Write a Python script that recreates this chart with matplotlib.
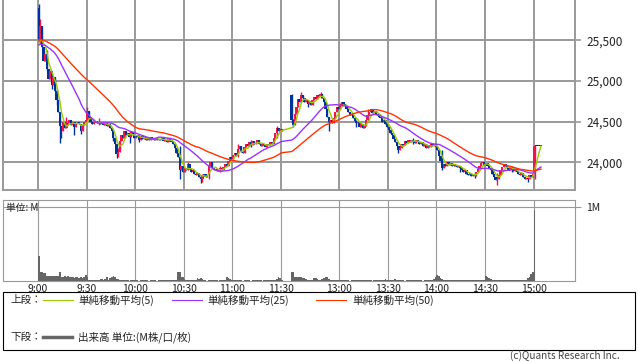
import numpy as np
import pandas as pd
import matplotlib.pyplot as plt
from matplotlib.lines import Line2D
from matplotlib.patches import Rectangle

plt.rcParams['font.family'] = ['Noto Sans CJK JP', 'DejaVu Sans']

# 前日引け前の1分足終値 (移動平均の計算用、描画しない)
close_prev = [
    25590, 25600, 25580, 25570, 25590, 25610, 25600, 25580, 25560, 25570,
    25590, 25580, 25570, 25600, 25590, 25570, 25560, 25580, 25570, 25550,
    25540, 25530, 25520, 25500, 25490,
    25470, 25450, 25440, 25460, 25450, 25430, 25440, 25420, 25430, 25450,
    25440, 25430, 25420, 25440, 25450, 25430, 25420, 25440, 25430, 25450,
    25440, 25430, 25450, 25440,
]

# 1分足の終値 前場 9:00〜11:30
close_am = [
    25500, 25680, 25420, 25250, 25330, 25150, 25020, 25120, 24950, 25050,  # 9:00
    24880, 24760, 24620, 24450, 24380, 24500, 24420, 24480, 24470, 24520,  # 9:10
    24460, 24490, 24440, 24480, 24500, 24470, 24380, 24460, 24490, 24520,  # 9:20
    24630, 24560, 24500, 24470, 24490, 24510, 24480, 24500, 24470, 24490,  # 9:30
    24460, 24480, 24450, 24470, 24420, 24380, 24300, 24220, 24100, 24130,  # 9:40
    24260, 24340, 24300, 24380, 24330, 24360, 24310, 24370, 24330, 24300,  # 9:50
    24340, 24310, 24280, 24320, 24290, 24310, 24270, 24300, 24280, 24310,  # 10:00
    24290, 24270, 24300, 24280, 24290, 24270, 24300, 24260, 24280, 24250,  # 10:10
    24300, 24270, 24250, 24220, 24180, 24120, 24060, 23900, 23950, 23880,  # 10:20
    23930, 23900, 23980, 23920, 23880, 23900, 23860, 23840, 23870, 23820,  # 10:30
    23800, 23830, 23860, 23820, 23850, 23960, 24000, 23930, 23900, 23920,  # 10:40
    23890, 23910, 23930, 23900, 23940, 23980, 23960, 24020, 24070, 24040,  # 10:50
    24090, 24120, 24080, 24160, 24200, 24130, 24110, 24190, 24230, 24200,  # 11:00
    24250, 24210, 24260, 24220, 24240, 24270, 24230, 24200, 24230, 24210,  # 11:10
    24190, 24230, 24210, 24250, 24230, 24300, 24360, 24420, 24380, 24410,  # 11:20
    24390,                                                                 # 11:30
]

# 後場 12:30〜15:00
close_pm = [
    24520, 24460, 24600, 24680, 24780, 24740, 24830, 24790, 24740, 24760,  # 12:30
    24720, 24750, 24700, 24760, 24800, 24780, 24830, 24810, 24840, 24790,  # 12:40
    24740, 24660, 24560, 24490, 24520, 24480, 24540, 24620, 24680, 24660,  # 12:50
    24700, 24740, 24720, 24690, 24650, 24620, 24580, 24600, 24540, 24510,  # 13:00
    24480, 24500, 24440, 24470, 24420, 24450, 24520, 24580, 24620, 24650,  # 13:10
    24610, 24630, 24600, 24580, 24560, 24540, 24500, 24520, 24470, 24440,  # 13:20
    24400, 24360, 24330, 24290, 24250, 24200, 24150, 24180, 24230, 24210,  # 13:30
    24260, 24240, 24270, 24250, 24280, 24260, 24240, 24270, 24250, 24230,  # 13:40
    24250, 24200, 24220, 24180, 24210, 24190, 24220, 24200, 24230, 24190,  # 13:50
    24150, 24080, 24020, 23930, 23980, 23960, 24000, 23970, 23990, 23950,  # 14:00
    23980, 23960, 23940, 23960, 23930, 23910, 23880, 23900, 23860, 23840,  # 14:10
    23870, 23830, 23850, 23830, 23880, 23920, 23960, 23990, 24000, 23970,  # 14:20
    23990, 23950, 23930, 23900, 23860, 23820, 23780, 23800, 23850, 23900,  # 14:30
    23940, 23980, 23950, 23930, 23910, 23940, 23920, 23890, 23910, 23880,  # 14:40
    23860, 23840, 23870, 23820, 23800, 23810, 23790, 23840, 23820, 23860,  # 14:50
    24200,                                                                 # 15:00
]

# 引け後(15:01〜15:04)
close_after = [24200, 24200, 24200, 24200]

open_am_first = 25900
open_pm_first = 24830

# ひげ (分: 高値, 安値)
wick_am = {0: (25950, 25480), 1: (25760, 25460), 5: (25380, 25120), 8: (25100, 24900),
           11: (24900, 24700), 13: (24600, 24240), 14: (24450, 24300), 17: (24560, 24420),
           22: (24500, 24330), 26: (24470, 24350), 30: (24680, 24520), 37: (24540, 24460),
           46: (24360, 24260), 48: (24220, 24050), 49: (24180, 24070), 56: (24380, 24240),
           62: (24330, 24250), 87: (24200, 23790), 92: (24000, 23900), 100: (23850, 23740),
           101: (23860, 23760), 105: (23980, 23800), 112: (23950, 23880), 123: (24220, 24060),
           131: (24270, 24190), 147: (24450, 24300)}
wick_pm = {0: (24840, 24500), 1: (24530, 24440), 6: (24870, 24760), 10: (24760, 24680),
           18: (24870, 24790), 23: (24560, 24380), 30: (24730, 24660), 40: (24520, 24440),
           47: (24660, 24500), 66: (24200, 24110), 75: (24300, 24230), 93: (24150, 23900),
           104: (23960, 23880), 113: (23880, 23810), 127: (23870, 23720), 136: (23960, 23880),
           146: (23830, 23760), 150: (24210, 23800)}

# 出来高 (M)
vol_am = [
    0.34, 0.12, 0.12, 0.11, 0.11, 0.07, 0.07, 0.07, 0.07, 0.07,
    0.07, 0.07, 0.07, 0.12, 0.05, 0.06, 0.07, 0.06, 0.07, 0.06,
    0.05, 0.05, 0.04, 0.05, 0.05, 0.04, 0.05, 0.04, 0.05, 0.08,
    0.06, 0.02, 0.02, 0.02, 0.02, 0.01, 0.02, 0.02, 0.03, 0.03,
    0.02, 0.03, 0.05, 0.02, 0.04, 0.06, 0.07, 0.05, 0.03, 0.03,
    0.02, 0.02, 0.01, 0.01, 0.02, 0.01, 0.00, 0.01, 0.01, 0.02,
    0.01, 0.01, 0.00, 0.01, 0.01, 0.01, 0.02, 0.01, 0.00, 0.01,
    0.01, 0.01, 0.01, 0.00, 0.01, 0.01, 0.01, 0.01, 0.02, 0.01,
    0.01, 0.01, 0.02, 0.01, 0.02, 0.02, 0.12, 0.12, 0.06, 0.05,
    0.03, 0.02, 0.02, 0.02, 0.02, 0.01, 0.02, 0.02, 0.04, 0.03,
    0.04, 0.03, 0.01, 0.01, 0.00, 0.01, 0.01, 0.01, 0.01, 0.01,
    0.01, 0.00, 0.01, 0.01, 0.01, 0.02, 0.05, 0.04, 0.03, 0.02,
    0.02, 0.01, 0.01, 0.01, 0.01, 0.01, 0.00, 0.01, 0.01, 0.01,
    0.01, 0.00, 0.01, 0.01, 0.01, 0.01, 0.01, 0.01, 0.00, 0.01,
    0.01, 0.01, 0.01, 0.01, 0.01, 0.02, 0.02, 0.03, 0.05, 0.04,
    0.02,
]
vol_pm = [
    0.12, 0.12, 0.05, 0.06, 0.05, 0.06, 0.05, 0.04, 0.04, 0.03,
    0.02, 0.02, 0.02, 0.02, 0.04, 0.04, 0.03, 0.02, 0.02, 0.03,
    0.04, 0.05, 0.05, 0.03, 0.02, 0.02, 0.01, 0.01, 0.01, 0.01,
    0.02, 0.01, 0.01, 0.01, 0.01, 0.01, 0.00, 0.01, 0.01, 0.01,
    0.01, 0.02, 0.01, 0.01, 0.01, 0.01, 0.02, 0.01, 0.01, 0.01,
    0.00, 0.01, 0.01, 0.01, 0.01, 0.01, 0.01, 0.02, 0.03, 0.01,
    0.01, 0.01, 0.01, 0.01, 0.03, 0.02, 0.02, 0.01, 0.01, 0.01,
    0.00, 0.01, 0.01, 0.01, 0.01, 0.01, 0.01, 0.01, 0.01, 0.01,
    0.01, 0.00, 0.01, 0.01, 0.01, 0.01, 0.01, 0.01, 0.03, 0.05,
    0.08, 0.07, 0.04, 0.03, 0.02, 0.02, 0.01, 0.01, 0.01, 0.02,
    0.01, 0.01, 0.01, 0.01, 0.01, 0.02, 0.01, 0.01, 0.01, 0.02,
    0.01, 0.01, 0.01, 0.01, 0.01, 0.01, 0.01, 0.01, 0.01, 0.01,
    0.07, 0.06, 0.04, 0.03, 0.02, 0.01, 0.01, 0.01, 0.01, 0.01,
    0.01, 0.01, 0.01, 0.01, 0.01, 0.02, 0.01, 0.01, 0.01, 0.01,
    0.01, 0.01, 0.01, 0.02, 0.02, 0.02, 0.04, 0.05, 0.10, 0.12,
    0.96,
]

tick_labels = ['9:00', '9:30', '10:00', '10:30', '11:00', '11:30',
               '13:00', '13:30', '14:00', '14:30', '15:00']
price_ticks = [24000, 24500, 25000, 25500]

# --- 時間軸 (昼休みは少しだけ詰める)
pm_start = 156
x_am = np.arange(len(close_am))
x_pm = pm_start + np.arange(len(close_pm))
x_after = x_pm[-1] + 1 + np.arange(len(close_after))
tick_pos = [0, 30, 60, 90, 120, 150, pm_start + 30, pm_start + 60,
            pm_start + 90, pm_start + 120, pm_start + 150]

closes = np.array(close_am + close_pm + close_after, dtype=float)
xs = np.concatenate([x_am, x_pm, x_after]) + 0.5
opens = np.concatenate([[open_am_first], closes[:-1]])
opens[len(close_am)] = open_pm_first
highs = np.maximum(opens, closes)
lows = np.minimum(opens, closes)
for m, (h, l) in wick_am.items():
    highs[m], lows[m] = h, l
for a, (h, l) in wick_pm.items():
    highs[len(close_am) + a], lows[len(close_am) + a] = h, l

# 移動平均 (前日分から続けて計算)
s = pd.Series(close_prev + list(closes))
n_prev = len(close_prev)
ma5 = s.rolling(5, min_periods=1).mean().values[n_prev:]
ma25 = s.rolling(25, min_periods=1).mean().values[n_prev:]
ma50 = s.rolling(50, min_periods=1).mean().values[n_prev:]

fig = plt.figure(figsize=(6.38, 3.62), dpi=100)
W, H = 638, 362
ax = fig.add_axes([3 / W, 1 - 190 / H, 572 / W, 190 / H])
axv = fig.add_axes([3 / W, 1 - 281 / H, 572 / W, 81 / H])

grid_c = '#999999'
up_c = '#f0144a'
dn_c = '#003399'

# ローソク足
up = closes > opens
body = np.abs(closes - opens)
body = np.where(body < 8, 8, body)
colors = np.where(up, up_c, dn_c)
ax.vlines(xs, lows, highs, colors=colors, linewidth=1.0, zorder=3)
ax.bar(xs, body, bottom=np.minimum(opens, closes), width=1.45, color=colors,
       linewidth=0, zorder=3)

ax.plot(xs, ma5, color='#99cc00', lw=1.0, zorder=4)
ax.plot(xs, ma25, color='#9933ff', lw=1.0, zorder=4)
ax.plot(xs, ma50, color='#ff3300', lw=1.0, zorder=4)

ax.set_xlim(-21.6, 331.5)
ax.set_ylim(23660, 25995)
ax.set_xticks(tick_pos)
ax.set_yticks(price_ticks)
ax.set_yticklabels([f'{v:,}' for v in price_ticks])
ax.grid(True, color=grid_c, lw=1.4)
ax.set_axisbelow(True)
ax.yaxis.tick_right()
ax.tick_params(axis='x', length=0, labelbottom=False)
ax.tick_params(axis='y', length=4, width=1.2, color=grid_c, labelsize=8.5,
               labelcolor='#222222', pad=4)
for sp in ax.spines.values():
    sp.set_color(grid_c)
    sp.set_linewidth(1.4)
ax.spines['top'].set_visible(False)

# 出来高
vol = np.array(vol_am + vol_pm, dtype=float)
xv = np.concatenate([x_am, x_pm])
axv.bar(xv, vol, width=1.0, align='edge', color='#666666', linewidth=0, zorder=3)
axv.set_xlim(-21.6, 331.5)
axv.set_ylim(0, 1.09)
axv.set_xticks(tick_pos)
axv.set_xticklabels(tick_labels)
axv.set_yticks([1.0])
axv.set_yticklabels(['1M'])
axv.yaxis.tick_right()
axv.grid(True, color=grid_c, lw=0.8)
axv.set_axisbelow(True)
axv.tick_params(axis='x', length=0, labelsize=7.5, labelcolor='#222222', pad=2)
axv.tick_params(axis='y', length=4, width=0.8, color=grid_c, labelsize=7.5,
                labelcolor='#222222', pad=4)
for sp in axv.spines.values():
    sp.set_color(grid_c)
    sp.set_linewidth(0.8)
axv.text(0.005, 0.9, '単位: M', transform=axv.transAxes, fontsize=7,
         va='center', ha='left', color='#222222')

# 凡例
fig.patches.append(Rectangle((3 / W, 1 - 350 / H), 632 / W, 58 / H,
                             transform=fig.transFigure, fill=False,
                             edgecolor='black', lw=0.8))
y1 = 1 - 300 / H
y2 = 1 - 337 / H
fs = 7.6
fig.text(10 / W, y1, '上段：', fontsize=fs, va='center', color='#222222')
fig.text(10 / W, y2, '下段：', fontsize=fs, va='center', color='#222222')
legend_items = [('単純移動平均(5)', '#99cc00', 43, 78),
                ('単純移動平均(25)', '#9933ff', 172, 207),
                ('単純移動平均(50)', '#ff3300', 316, 352)]
for label, c, lx, tx in legend_items:
    fig.add_artist(Line2D([lx / W, (lx + 30) / W], [y1, y1], color=c, lw=0.8,
                          transform=fig.transFigure))
    fig.text(tx / W, y1, label, fontsize=fs, va='center', color='#222222')
fig.add_artist(Line2D([43 / W, 72 / W], [y2, y2], color='#666666', lw=2.5,
                      transform=fig.transFigure))
fig.text(78 / W, y2, '出来高 単位:(M株/口/枚)', fontsize=fs, va='center', color='#222222')
fig.text(620 / W, 1 - 356 / H, '(c)Quants Research Inc.', fontsize=7.2,
         ha='right', va='center', color='#444444')

fig.savefig('out.png', dpi=100)
